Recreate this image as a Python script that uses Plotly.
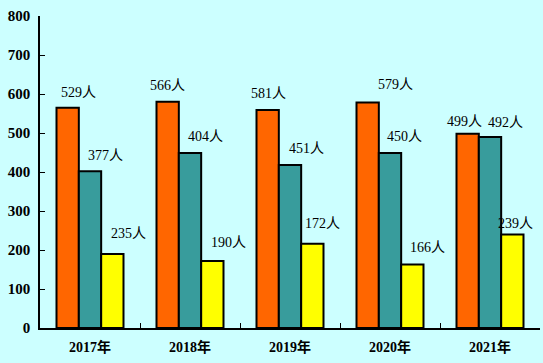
import plotly.graph_objects as go

years = ["2017年", "2018年", "2019年", "2020年", "2021年"]
orange_vals = [565, 580, 559, 578, 498]
teal_vals = [402, 449, 418, 449, 490]
yellow_vals = [190, 172, 216, 163, 240]
orange_labels = ["529人", "566人", "581人", "579人", "499人"]
teal_labels = ["377人", "404人", "451人", "450人", "492人"]
yellow_labels = ["235人", "190人", "172人", "166人", "239人"]
y_ticks = [0, 100, 200, 300, 400, 500, 600, 700, 800]

# label pixel shifts relative to each bar's top-centre (styling only)
bar_px = [-22.5, 0, 22.5]
label_dx = [[11, 0, 1, 28, -3], [15, 15, 16, 14, 15], [16, 16, 10, 15, 3]]
label_dy = [15, 16, 17]
dy_extra = [[0, 1, 1, 3, -3], [0, 0, 0, 0, -2], [3, 1, 3, 0, -6]]

fig = go.Figure()
line = dict(color="black", width=2)
fig.add_bar(x=years, y=orange_vals, marker=dict(color="#FF6600", line=line))
fig.add_bar(x=years, y=teal_vals, marker=dict(color="#008080", line=line,
            pattern=dict(shape=".", fgcolor="#FFFFFF", bgcolor="#008080", size=2, solidity=0.5)))
fig.add_bar(x=years, y=yellow_vals, marker=dict(color="#FFFF00", line=line))

ann = []
for s, (vals, labs) in enumerate([(orange_vals, orange_labels), (teal_vals, teal_labels), (yellow_vals, yellow_labels)]):
    for i, y in enumerate(years):
        ann.append(dict(x=y, y=vals[i], text=labs[i], showarrow=False,
                        xshift=bar_px[s] + label_dx[s][i], yshift=label_dy[s] + dy_extra[s][i],
                        yanchor="middle", xanchor="center",
                        font=dict(family="Liberation Serif, Noto Sans CJK SC", size=14, color="black")))

fig.update_layout(
    width=543, height=363,
    margin=dict(l=40, r=3, t=16, b=35, autoexpand=False),
    paper_bgcolor="#CCFFFF", plot_bgcolor="#CCFFFF",
    barmode="group", bargap=0.33, bargroupgap=0,
    showlegend=False,
    annotations=ann,
    font=dict(family="Liberation Serif, Noto Sans CJK SC", color="black"),
)
fig.update_xaxes(showline=True, linecolor="black", linewidth=1.5, ticks="inside", ticklen=5,
                 tickcolor="black", tickson="boundaries", showgrid=False, automargin=False,
                 tickfont=dict(size=14, family="Liberation Serif, Noto Sans CJK SC", weight="bold"),
                 ticklabelstandoff=5)
fig.update_yaxes(range=[0, 800], tickvals=y_ticks, showline=True, linecolor="black", linewidth=1.5,
                 ticks="inside", ticklen=5, tickcolor="black", showgrid=False, zeroline=False,
                 automargin=False,
                 tickfont=dict(size=15, family="Liberation Serif", weight="bold"),
                 ticklabelstandoff=5)

fig.write_html("out.html", config={"displayModeBar": False},
               post_script="document.body.style.margin='0';document.body.style.background='#CCFFFF';")
